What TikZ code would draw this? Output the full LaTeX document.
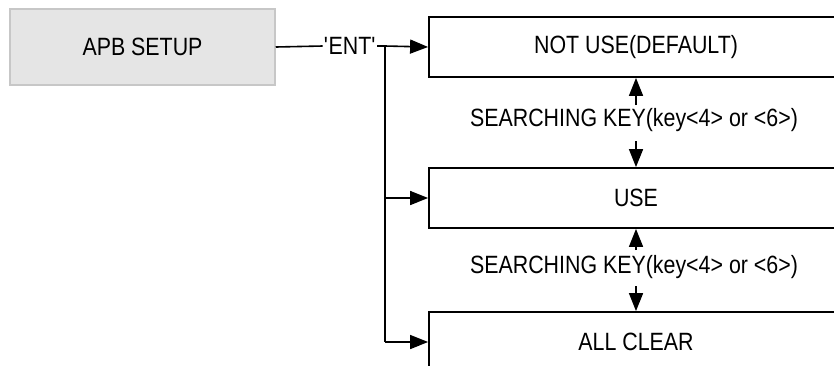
\documentclass[tikz,border=0pt]{standalone}
\usepackage{fontspec}
\setmainfont[FakeStretch=0.855]{Liberation Sans}
\usetikzlibrary{arrows.meta}
\begin{document}
\begin{tikzpicture}[x=1pt,y=-1pt,
  every node/.style={font=\fontsize{25}{30}\selectfont, inner sep=0pt},
  menubox/.style={draw=black, line width=1.8pt, minimum width=414pt, minimum height=60pt},
  headbox/.style={draw=black!22, fill=black!10, line width=1.5pt, minimum width=265pt, minimum height=76pt},
  link/.style={line width=1.6pt},
  tip/.style={-{Triangle[length=18pt,width=14pt]}, line width=1.6pt}]
\useasboundingbox (0,0) rectangle (834,365);
\clip (0,0) rectangle (834,365);

% menu boxes
\node[headbox] (apb) at (142.5,47) {APB SETUP};
\node[menubox] (notuse) at (636,47) {NOT USE(DEFAULT)};
\node[menubox] (use) at (636,198) {USE};
\node[menubox] (clear) at (636,342) {ALL CLEAR};

% key labels between the menu items
\node[inner xsep=1pt] (ent) at (350,46) {\textquotesingle ENT\textquotesingle};
\node (key1) at (634,120) {SEARCHING KEY(key<4> or <6>)};
\node (key2) at (634,267) {SEARCHING KEY(key<4> or <6>)};

% entry branch
\coordinate (fork) at (385,46);
\coordinate (bottom) at (385,342);
\draw[link] (apb.east) -- (ent.west);
\draw[link] (ent.east) -- (fork);
\draw[tip] (fork) -- (notuse.west);
\draw[link] (fork) -- (bottom);
\draw[tip] (fork |- use.west) -- (use.west);
\draw[tip] (bottom) -- (clear.west);

% scrolling arrows
\coordinate (k1up) at (636,105);
\coordinate (k1dn) at (636,141);
\coordinate (k2up) at (636,250);
\coordinate (k2dn) at (636,286);
\draw[tip] (k1up) -- (notuse.south);
\draw[tip] (k1dn) -- (use.north);
\draw[tip] (k2up) -- (use.south);
\draw[tip] (k2dn) -- (clear.north);
\end{tikzpicture}
\end{document}
